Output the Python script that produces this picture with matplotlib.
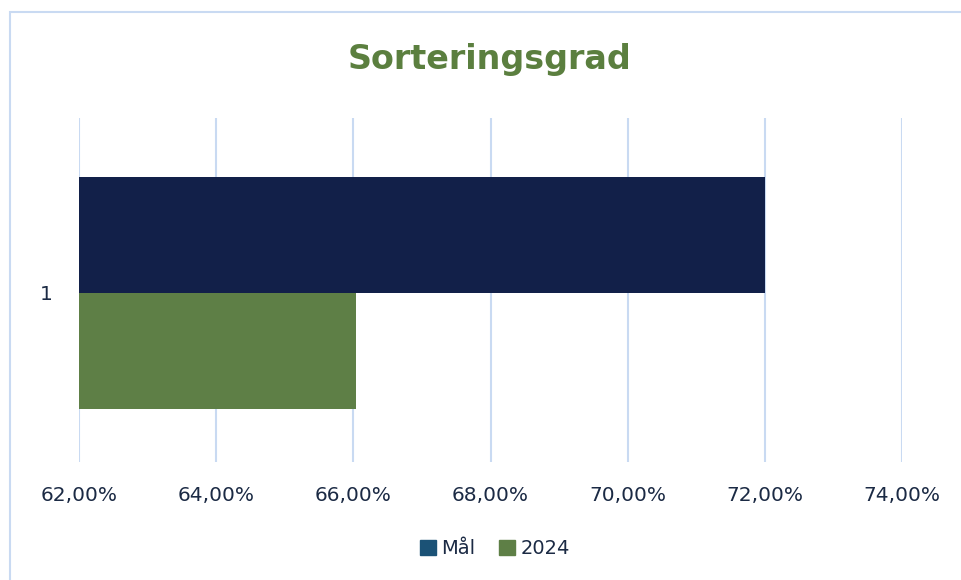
import matplotlib.pyplot as plt
from matplotlib.patches import Rectangle
from matplotlib.ticker import FuncFormatter

# data
categories = ["1"]
series = ["Mål", "2024"]
maal = [72.0]
aar_2024 = [66.04]
xticks = [62, 64, 66, 68, 70, 72, 74]

navy = "#122049"
green = "#5E7F46"
legend_navy = "#1B5276"
text_col = "#1B2A44"
grid_col = "#C9DAF2"

fig = plt.figure(figsize=(9.62, 5.8), dpi=100)
ax = fig.add_axes([79/962, 1 - 462/580, (902 - 79)/962, (462 - 118)/580])

# frame round the chart
fig.patches.append(Rectangle((10/962, -0.1), 1.2, 1 - 12/580 + 0.1,
                             transform=fig.transFigure, fill=False,
                             edgecolor=grid_col, linewidth=1.5))

h = 116/344
ax.barh([0.0], [v - 62 for v in maal], left=62, height=h, align="edge",
        color=navy, zorder=3)
ax.barh([0.0], [v - 62 for v in aar_2024], left=62, height=-h, align="edge",
        color=green, zorder=3)

d = 3/344
ax.set_xlim(62, 74)
ax.set_ylim(-0.5 + d, 0.5 + d)
ax.set_xticks(xticks)
ax.xaxis.set_major_formatter(FuncFormatter(lambda v, p: f"{v:.2f}%".replace(".", ",")))
ax.set_yticks([0.0])
ax.set_yticklabels(categories)
ax.tick_params(length=0, labelsize=14.5, colors=text_col)
ax.tick_params(axis="x", pad=17)
ax.tick_params(axis="y", pad=19)
ax.grid(axis="x", color=grid_col, linewidth=1.5, zorder=0)
for s in ax.spines.values():
    s.set_visible(False)

fig.text(490/962, 1 - 60/580, "Sorteringsgrad", ha="center", va="center",
         fontsize=24, fontweight="bold", color="#5B7F3F")

handles = [Rectangle((0, 0), 1, 1, color=legend_navy),
           Rectangle((0, 0), 1, 1, color=green)]
leg = fig.legend(handles, series, loc="center", bbox_to_anchor=(495/962, 1 - 549/580),
                 ncol=2, frameon=False, fontsize=14, handlelength=0.8,
                 handleheight=0.8, handletextpad=0.3, columnspacing=1.2)
for t in leg.get_texts():
    t.set_color(text_col)

fig.savefig("out.png", dpi=100)
